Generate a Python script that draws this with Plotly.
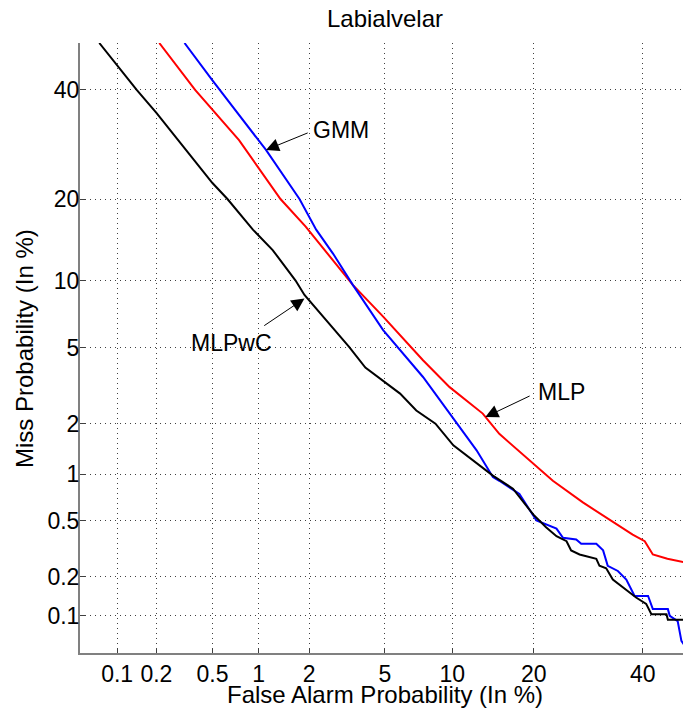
import plotly.graph_objects as go
from statistics import NormalDist

# DET plot: probabilities in %, drawn on a normal deviate (probit) scale
nd = NormalDist()


def probit(pct):
    return [nd.inv_cdf(p / 100.0) for p in pct]


tick_vals = [0.1, 0.2, 0.5, 1, 2, 5, 10, 20, 40]
tick_text = ["0.1", "0.2", "0.5", "1", "2", "5", "10", "20", "40"]

# MLPwC (black)
mlpwc_fa = [0.072, 0.142, 0.20, 0.50, 0.63, 0.92, 1.22, 1.67, 1.88, 3.3, 4.0,
            5.9, 7.0, 8.5, 10.1, 12.8, 14.4, 17.0, 19.9, 21.9, 23.6, 25.3, 26.1,
            27.6, 30.7, 31.3, 32.6, 33.9, 35.9, 38.6, 40.7, 41.8, 45.0, 45.3, 50.0]
mlpwc_miss = [50.0, 40.0, 35.3, 22.5, 20.0, 15.7, 13.2, 10.0, 8.7, 5.06, 4.0,
              2.93, 2.37, 2.0, 1.5, 1.13, 0.98, 0.81, 0.55, 0.45, 0.39, 0.36, 0.31,
              0.29, 0.27, 0.24, 0.23, 0.19, 0.166, 0.139, 0.124, 0.103, 0.103, 0.093, 0.093]

# MLP (red)
mlp_fa = [0.21, 0.38, 0.75, 1.36, 1.91, 3.45, 4.9, 7.5, 9.75, 13.2, 15.2, 18.9,
          23.0, 28.2, 34.6, 37.9, 40.4, 42.1, 45.2, 50.0]
mlp_miss = [50.0, 40.0, 30.0, 20.0, 16.1, 9.6, 7.0, 4.35, 3.17, 2.28, 1.75, 1.27,
            0.91, 0.66, 0.47, 0.40, 0.36, 0.29, 0.27, 0.25]

# GMM (blue)
gmm_fa = [0.32, 0.50, 1.11, 1.76, 2.19, 2.71, 3.45, 4.9, 7.5, 9.75, 12.5, 14.4,
          15.2, 17.9, 20.4, 23.6, 24.7, 27.0, 27.9, 30.7, 32.0, 32.9, 34.9, 36.6,
          38.3, 41.1, 42.1, 45.3, 45.7, 47.4, 48.2, 50.0]
gmm_miss = [50.0, 42.0, 28.2, 20.0, 15.7, 12.8, 9.6, 6.07, 3.58, 2.28, 1.4, 0.96,
            0.91, 0.75, 0.50, 0.44, 0.38, 0.37, 0.345, 0.345, 0.31, 0.24, 0.22, 0.19,
            0.143, 0.143, 0.113, 0.113, 0.10, 0.091, 0.063, 0.05]

# labels: (text, text position, arrow head, arrow tail) in %
labels = [
    ("GMM", (3.0, 32.0), (1.11, 28.2), (2.0, 31.5)),
    ("MLPwC", (0.67, 5.3), (1.88, 8.4), (1.06, 6.3)),
    ("MLP", (24.5, 3.0), (13.5, 2.18), (19.6, 2.87)),
]

FONT = "Liberation Sans, Arial, sans-serif"

fig = go.Figure()
for fa, miss, col, name in [(mlp_fa, mlp_miss, "#ff0000", "MLP"),
                            (gmm_fa, gmm_miss, "#0000ff", "GMM"),
                            (mlpwc_fa, mlpwc_miss, "#000000", "MLPwC")]:
    fig.add_trace(go.Scatter(x=probit(fa), y=probit(miss), mode="lines", name=name,
                             line=dict(color=col, width=2)))

for txt, pos, head, tail in labels:
    hx, hy = probit([head[0], head[1]])
    tx, ty = probit([tail[0], tail[1]])
    fig.add_annotation(x=hx, y=hy, ax=tx, ay=ty, axref="x", ayref="y", text="",
                       showarrow=True, arrowhead=2, arrowsize=2.6, arrowwidth=1,
                       arrowcolor="black", standoff=0)
    px_, py_ = probit([pos[0], pos[1]])
    fig.add_annotation(x=px_, y=py_, text=txt, showarrow=False,
                       font=dict(size=23, color="black", family=FONT))

# axis titles
fig.add_annotation(x=0.5058, y=-0.0684, xref="paper", yref="paper",
                   xanchor="center", yanchor="middle", showarrow=False,
                   text="False Alarm Probability (In %)",
                   font=dict(size=24, color="black", family=FONT))
fig.add_annotation(x=-0.0929, y=0.5, xref="paper", yref="paper",
                   xanchor="center", yanchor="middle", showarrow=False, textangle=-90,
                   text="Miss Probability (In %)",
                   font=dict(size=24, color="black", family=FONT))

lo = nd.inv_cdf(0.0005)
axis_common = dict(
    tickmode="array", tickvals=probit(tick_vals), ticktext=tick_text,
    showgrid=True, gridcolor="rgba(0,0,0,0.75)", gridwidth=1, griddash="1px,4px",
    zeroline=False, showline=True, linecolor="#808080", linewidth=2,
    ticks="inside", ticklen=5, tickcolor="#404040", tickwidth=1,
    tickfont=dict(size=23, color="black", family=FONT),
)

fig.update_xaxes(range=[lo, -0.0365], ticklabelstandoff=-1, **axis_common)
fig.update_yaxes(range=[lo, 0.0], ticklabelstandoff=-6, **axis_common)

fig.update_layout(
    width=683, height=715, autosize=False,
    margin=dict(l=80, r=0, t=43, b=62),
    plot_bgcolor="white", paper_bgcolor="white",
    showlegend=False,
    title=dict(text="Labialvelar", x=0.5058, xref="paper", xanchor="center",
               y=1 - 19 / 715, yanchor="middle",
               font=dict(size=24, color="black", family=FONT)),
)

fig.write_html("out.html", config={"displayModeBar": False},
               post_script="document.body.style.margin='0px';")
